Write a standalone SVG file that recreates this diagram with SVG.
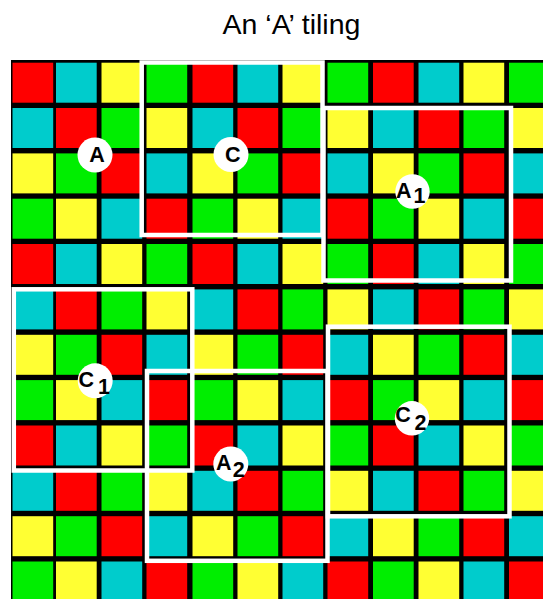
<svg xmlns="http://www.w3.org/2000/svg" xmlns:xlink="http://www.w3.org/1999/xlink" width="543" height="599" viewBox="0 0 543 599">
<style>
.r{fill:#FF0000}.c{fill:#00CCCC}.y{fill:#FFFF33}.g{fill:#00EE00}
.tile{fill:none;stroke:#FFFFFF;stroke-width:4.5}
.lbl circle{fill:#FFFFFF}
.lbl text{font-family:"Liberation Sans",Arial,sans-serif;font-weight:bold;font-size:21.5px;fill:#000}
.title{font-family:"Liberation Sans",Arial,sans-serif;font-size:28.5px;fill:#000}
</style>
<defs>
<g id="row0">
<rect class="r" x="12.5" y="0" width="40.7" height="40"/><rect class="c" x="56" y="0" width="40.7" height="40"/><rect class="y" x="101.5" y="0" width="40.7" height="40"/><rect class="g" x="146.5" y="0" width="40.7" height="40"/>
<rect class="r" x="192.5" y="0" width="40.7" height="40"/><rect class="c" x="237.5" y="0" width="40.7" height="40"/><rect class="y" x="282.5" y="0" width="40.7" height="40"/><rect class="g" x="327.5" y="0" width="40.7" height="40"/>
<rect class="r" x="373" y="0" width="40.7" height="40"/><rect class="c" x="418.5" y="0" width="40.7" height="40"/><rect class="y" x="463.5" y="0" width="40.7" height="40"/><rect class="g" x="509" y="0" width="40.7" height="40"/>
</g>
<g id="row1">
<rect class="c" x="12.5" y="0" width="40.7" height="40"/><rect class="r" x="56" y="0" width="40.7" height="40"/><rect class="g" x="101.5" y="0" width="40.7" height="40"/><rect class="y" x="146.5" y="0" width="40.7" height="40"/>
<rect class="c" x="192.5" y="0" width="40.7" height="40"/><rect class="r" x="237.5" y="0" width="40.7" height="40"/><rect class="g" x="282.5" y="0" width="40.7" height="40"/><rect class="y" x="327.5" y="0" width="40.7" height="40"/>
<rect class="c" x="373" y="0" width="40.7" height="40"/><rect class="r" x="418.5" y="0" width="40.7" height="40"/><rect class="g" x="463.5" y="0" width="40.7" height="40"/><rect class="y" x="509" y="0" width="40.7" height="40"/>
</g>
<g id="row2">
<rect class="y" x="12.5" y="0" width="40.7" height="40"/><rect class="g" x="56" y="0" width="40.7" height="40"/><rect class="r" x="101.5" y="0" width="40.7" height="40"/><rect class="c" x="146.5" y="0" width="40.7" height="40"/>
<rect class="y" x="192.5" y="0" width="40.7" height="40"/><rect class="g" x="237.5" y="0" width="40.7" height="40"/><rect class="r" x="282.5" y="0" width="40.7" height="40"/><rect class="c" x="327.5" y="0" width="40.7" height="40"/>
<rect class="y" x="373" y="0" width="40.7" height="40"/><rect class="g" x="418.5" y="0" width="40.7" height="40"/><rect class="r" x="463.5" y="0" width="40.7" height="40"/><rect class="c" x="509" y="0" width="40.7" height="40"/>
</g>
<g id="row3">
<rect class="g" x="12.5" y="0" width="40.7" height="40"/><rect class="y" x="56" y="0" width="40.7" height="40"/><rect class="c" x="101.5" y="0" width="40.7" height="40"/><rect class="r" x="146.5" y="0" width="40.7" height="40"/>
<rect class="g" x="192.5" y="0" width="40.7" height="40"/><rect class="y" x="237.5" y="0" width="40.7" height="40"/><rect class="c" x="282.5" y="0" width="40.7" height="40"/><rect class="r" x="327.5" y="0" width="40.7" height="40"/>
<rect class="g" x="373" y="0" width="40.7" height="40"/><rect class="y" x="418.5" y="0" width="40.7" height="40"/><rect class="c" x="463.5" y="0" width="40.7" height="40"/><rect class="r" x="509" y="0" width="40.7" height="40"/>
</g>
</defs>
<rect width="543" height="599" fill="#FFFFFF"/>
<text class="title" x="291.5" y="33.5" text-anchor="middle">An ‘A’ tiling</text>
<g id="grid">
<rect x="11" y="60" width="532" height="539" fill="#000000"/>
<use xlink:href="#row0" y="62.7"/>
<use xlink:href="#row1" y="108"/>
<use xlink:href="#row2" y="153.4"/>
<use xlink:href="#row3" y="198.7"/>
<use xlink:href="#row0" y="244"/>
<use xlink:href="#row1" y="289.4"/>
<use xlink:href="#row2" y="334.8"/>
<use xlink:href="#row3" y="380.1"/>
<use xlink:href="#row0" y="425.5"/>
<use xlink:href="#row1" y="470.8"/>
<use xlink:href="#row2" y="516.2"/>
<use xlink:href="#row3" y="561.5"/>
</g>
<g id="tile-C">
<rect class="tile" x="141.7" y="62.5" width="180.8" height="172.5"/>
</g>
<g id="tile-A1">
<rect class="tile" x="323.5" y="108" width="187.5" height="172.5"/>
</g>
<g id="tile-C1">
<rect class="tile" x="13.8" y="289.3" width="178.5" height="181.2"/>
</g>
<g id="tile-A2">
<rect class="tile" x="147" y="371" width="180.5" height="189.8"/>
</g>
<g id="tile-C2">
<rect class="tile" x="328" y="326.7" width="181.5" height="189.6"/>
</g>
<g id="label-A" class="lbl">
<circle cx="95" cy="155" r="17.5"/>
<text x="97" y="161.5" text-anchor="middle">A</text>
</g>
<g id="label-C" class="lbl">
<circle cx="231" cy="154.5" r="17.5"/>
<text x="232.8" y="161.5" text-anchor="middle">C</text>
</g>
<g id="label-A1" class="lbl">
<circle cx="412.5" cy="191.5" r="17.2"/>
<text x="396" y="197.5">A<tspan x="413.5" y="202.5">1</tspan></text>
</g>
<g id="label-C1" class="lbl">
<circle cx="95.2" cy="380.8" r="17.5"/>
<text x="78.5" y="386.7">C<tspan x="98" y="393.5">1</tspan></text>
</g>
<g id="label-C2" class="lbl">
<circle cx="412" cy="418.3" r="17.2"/>
<text x="395.2" y="421.7">C<tspan x="414.4" y="430.2">2</tspan></text>
</g>
<g id="label-A2" class="lbl">
<circle cx="230.8" cy="464" r="17.5"/>
<text x="216" y="470.2">A<tspan x="232.7" y="476.9">2</tspan></text>
</g>
</svg>
